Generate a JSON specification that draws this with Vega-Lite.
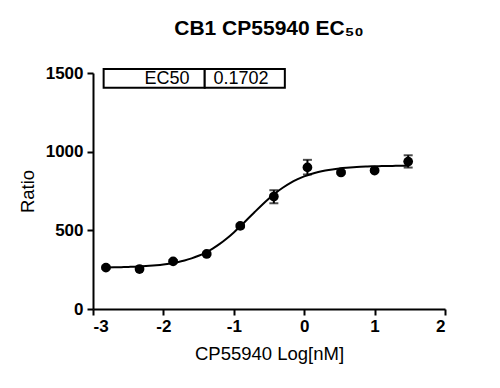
{
  "$schema": "https://vega.github.io/schema/vega-lite/v6.json",
  "width": 352,
  "height": 236,
  "autosize": {"type": "none"},
  "padding": {"left": 93, "top": 73, "right": 55, "bottom": 79},
  "background": "white",
  "config": {
    "font": "Liberation Sans",
    "view": {"stroke": null},
    "axis": {"grid": false, "domainColor": "black", "tickColor": "black", "labelColor": "black", "titleColor": "black", "domainWidth": 2, "tickWidth": 2, "tickSize": 6}
  },
  "title": {"text": "CB1 CP55940 EC₅₀", "fontSize": 21, "fontWeight": "bold", "font": "Liberation Sans", "anchor": "middle", "offset": 25, "color": "black"},
  "datasets": {
    "points": [
      {"x": -2.816, "y": 263, "lo": 255, "hi": 271},
      {"x": -2.339, "y": 254, "lo": 246, "hi": 262},
      {"x": -1.862, "y": 303, "lo": 295, "hi": 311},
      {"x": -1.385, "y": 350, "lo": 342, "hi": 358},
      {"x": -0.908, "y": 528, "lo": 518, "hi": 538},
      {"x": -0.431, "y": 715, "lo": 672, "hi": 755},
      {"x": 0.046, "y": 900, "lo": 855, "hi": 948},
      {"x": 0.523, "y": 868, "lo": 860, "hi": 876},
      {"x": 1.0, "y": 880, "lo": 872, "hi": 888},
      {"x": 1.477, "y": 937, "lo": 899, "hi": 977}
    ],
    "curve": [
      {"x": -2.816, "y": 264.3}, {"x": -2.7, "y": 265.1}, {"x": -2.6, "y": 266.1}, {"x": -2.5, "y": 267.4},
      {"x": -2.4, "y": 269.1}, {"x": -2.3, "y": 271.3}, {"x": -2.2, "y": 274.2}, {"x": -2.1, "y": 278.0},
      {"x": -2.0, "y": 283.0}, {"x": -1.9, "y": 289.4}, {"x": -1.8, "y": 297.6}, {"x": -1.7, "y": 308.1},
      {"x": -1.6, "y": 321.5}, {"x": -1.5, "y": 338.2}, {"x": -1.4, "y": 358.9}, {"x": -1.3, "y": 383.8},
      {"x": -1.2, "y": 413.6}, {"x": -1.1, "y": 448.0}, {"x": -1.0, "y": 486.8}, {"x": -0.9, "y": 528.8},
      {"x": -0.8, "y": 573.1}, {"x": -0.7, "y": 617.9}, {"x": -0.6, "y": 661.5}, {"x": -0.5, "y": 702.5},
      {"x": -0.4, "y": 739.7}, {"x": -0.3, "y": 772.4}, {"x": -0.2, "y": 800.3}, {"x": -0.1, "y": 823.6},
      {"x": 0.0, "y": 842.7}, {"x": 0.1, "y": 858.0}, {"x": 0.2, "y": 870.2}, {"x": 0.3, "y": 879.8},
      {"x": 0.4, "y": 887.3}, {"x": 0.5, "y": 893.1}, {"x": 0.6, "y": 897.5}, {"x": 0.7, "y": 901.0},
      {"x": 0.8, "y": 903.6}, {"x": 0.9, "y": 905.6}, {"x": 1.0, "y": 907.1}, {"x": 1.1, "y": 908.3},
      {"x": 1.2, "y": 909.2}, {"x": 1.3, "y": 909.9}, {"x": 1.4, "y": 910.4}, {"x": 1.477, "y": 910.7}
    ],
    "tablebox": [
      {"x": -2.849, "x2": -1.413, "y": 1406, "y2": 1525},
      {"x": -1.413, "x2": -0.275, "y": 1406, "y2": 1525}
    ],
    "tablelabel": [
      {"x": -1.63, "y": 1462, "label": "EC50"}
    ],
    "tablevalue": [
      {"x": -1.29, "y": 1462, "label": "0.1702"}
    ]
  },
  "layer": [
    {
      "data": {"name": "curve"},
      "mark": {"type": "line", "color": "black", "strokeWidth": 2, "interpolate": "monotone"},
      "encoding": {
        "x": {"field": "x", "type": "quantitative", "scale": {"domain": [-3, 2], "nice": false, "zero": false},
          "axis": {"values": [-3, -2, -1, 0, 1, 2], "title": "CP55940 Log[nM]", "titleFontSize": 18.5, "titleFontWeight": "normal", "titlePadding": 10, "labelFontSize": 17, "labelFontWeight": "bold", "labelPadding": 3, "labelExpr": "'' + datum.value"}},
        "y": {"field": "y", "type": "quantitative", "scale": {"domain": [0, 1500], "nice": false},
          "axis": {"values": [0, 500, 1000, 1500], "title": "Ratio", "titleFontSize": 18.5, "titleFontWeight": "normal", "titlePadding": 8, "labelFontSize": 17, "labelFontWeight": "bold", "labelPadding": 4, "labelExpr": "'' + datum.value"}}
      }
    },
    {
      "data": {"name": "points"},
      "mark": {"type": "errorbar", "color": "black", "thickness": 2, "ticks": {"size": 9, "thickness": 2, "color": "black"}},
      "encoding": {
        "x": {"field": "x", "type": "quantitative"},
        "y": {"field": "lo", "type": "quantitative", "title": "Ratio"},
        "y2": {"field": "hi"}
      }
    },
    {
      "data": {"name": "points"},
      "mark": {"type": "point", "filled": true, "color": "black", "opacity": 1, "size": 95, "shape": "circle"},
      "encoding": {
        "x": {"field": "x", "type": "quantitative"},
        "y": {"field": "y", "type": "quantitative", "title": "Ratio"}
      }
    },
    {
      "data": {"name": "tablebox"},
      "mark": {"type": "rect", "fill": "white", "stroke": "black", "strokeWidth": 2},
      "encoding": {
        "x": {"field": "x", "type": "quantitative"},
        "x2": {"field": "x2"},
        "y": {"field": "y", "type": "quantitative", "title": "Ratio"},
        "y2": {"field": "y2"}
      }
    },
    {
      "data": {"name": "tablelabel"},
      "mark": {"type": "text", "fontSize": 18, "color": "black", "baseline": "middle", "align": "right"},
      "encoding": {
        "x": {"field": "x", "type": "quantitative"},
        "y": {"field": "y", "type": "quantitative", "title": "Ratio"},
        "text": {"field": "label"}
      }
    },
    {
      "data": {"name": "tablevalue"},
      "mark": {"type": "text", "fontSize": 18, "color": "black", "baseline": "middle", "align": "left"},
      "encoding": {
        "x": {"field": "x", "type": "quantitative"},
        "y": {"field": "y", "type": "quantitative", "title": "Ratio"},
        "text": {"field": "label"}
      }
    }
  ]
}
